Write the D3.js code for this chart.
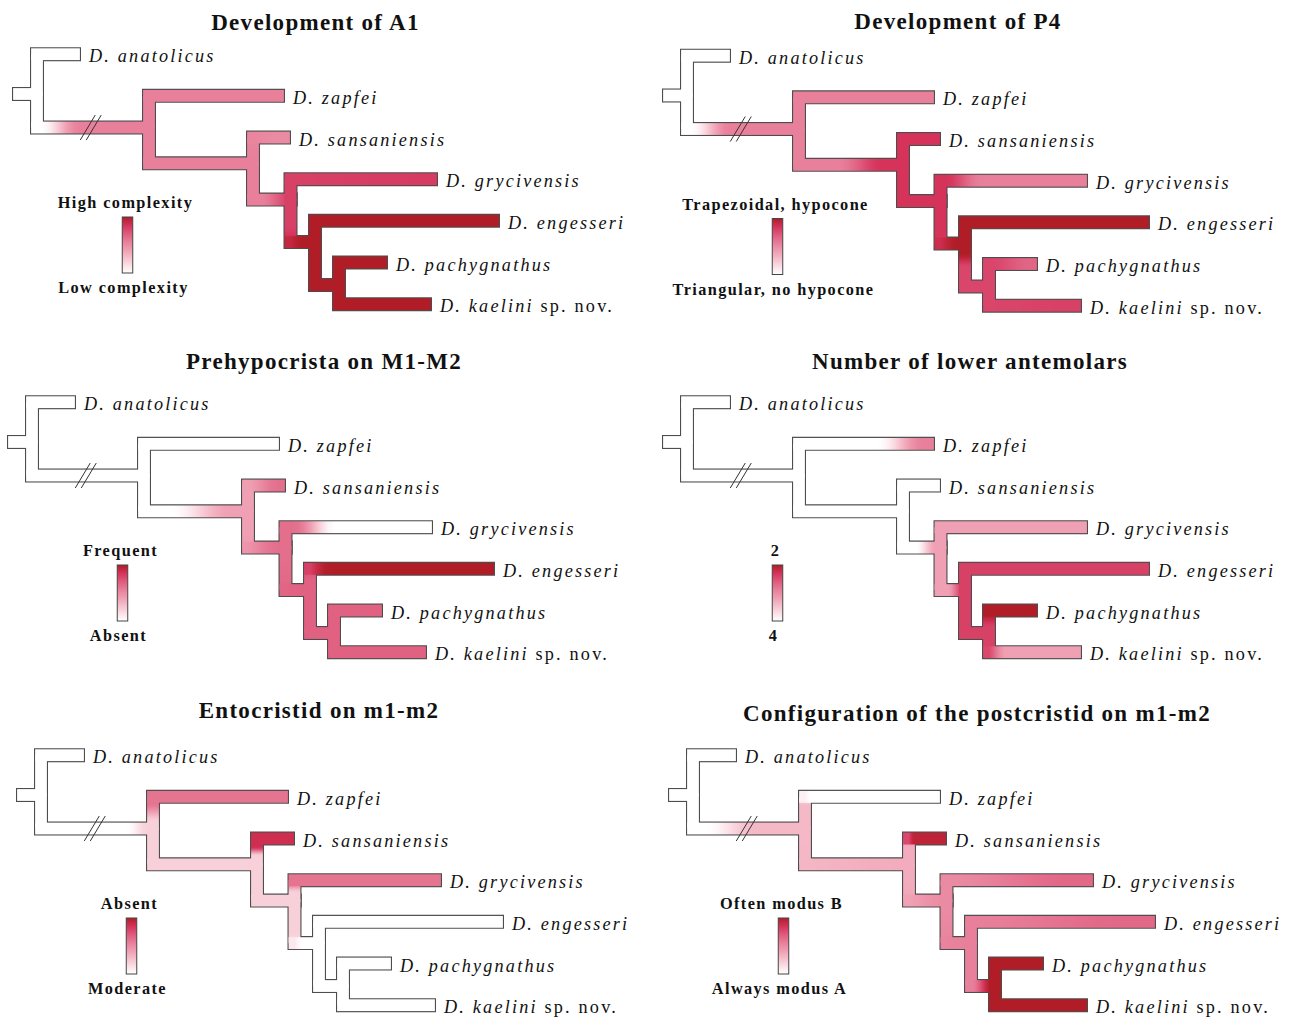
<!DOCTYPE html>
<html>
<head>
<meta charset="utf-8">
<script src="https://cdn.jsdelivr.net/npm/d3@7"></script>
<style>
  body { margin: 0; background: #ffffff; }
  text { font-family: "Liberation Serif", "Times New Roman", serif; fill: #111; }
</style>
</head>
<body>
<svg id="chart" width="1291" height="1017"></svg>
<script>
// ---- Characters mapped onto the tree (one tree per character) ----
const traitTitles = [
  "Development of A1",
  "Development of P4",
  "Prehypocrista on M1-M2",
  "Number of lower antemolars",
  "Entocristid on m1-m2",
  "Configuration of the postcristid on m1-m2"
];
const legendHigh = ["High complexity", "Trapezoidal, hypocone", "Frequent", "2", "Absent", "Often modus B"];
const legendLow  = ["Low complexity", "Triangular, no hypocone", "Absent", "4", "Moderate", "Always modus A"];

// ---- Tree topology ----
const nodeIds     = ["root", "anatolicus", "n1", "zapfei", "n2", "sansaniensis", "n3", "grycivensis", "n4", "engesseri", "n5", "pachygnathus", "kaelini"];
const nodeParents = [null, "root", "root", "n1", "n1", "n2", "n2", "n3", "n3", "n4", "n4", "n5", "n5"];
const branchLengths = [1.8, 3.7, 11.2, 12.9, 10.4, 3.1, 3.75, 14.05, 2.45, 17.8, 2.4, 4.2, 8.6];
const nodeRows      = [0.955, 0, 1.76, 1, 2.62, 2, 3.49, 3, 4.51, 4, 5.54, 5, 6];
const taxonLabels = {
  anatolicus: "D. anatolicus", zapfei: "D. zapfei", sansaniensis: "D. sansaniensis",
  grycivensis: "D. grycivensis", engesseri: "D. engesseri", pachygnathus: "D. pachygnathus",
  kaelini: "D. kaelini"
};

// ---- Reconstructed states (0 = low end of legend, 1 = high end), per node ----
const nodeStates = [
  [0, 0, 0.55, 0.55, 0.55, 0.5, 0.8, 0.82, 1, 1, 1, 1, 1],
  [0, 0, 0.55, 0.55, 0.85, 0.85, 0.85, 0.55, 1, 1, 0.78, 0.66, 0.8],
  [0, 0, 0, 0, 0.4, 0.62, 0.62, 0, 0.68, 1, 0.68, 0.68, 0.68],
  [0, 0, 0, 0.55, 0, 0, 0.4, 0.4, 0.8, 0.8, 0.8, 1, 0.4],
  [0, 0, 0.2, 0.6, 0.2, 0.88, 0.2, 0.6, 0, 0, 0, 0, 0],
  [0, 0, 0.3, 0, 0.35, 0.95, 0.5, 0.65, 0.55, 0.65, 1, 1, 1]
];
// where along each branch (fraction of its length) the state change is centred
const changeAt = [
  [0, 0.5, 0.39, 0.5, 0.5, 0.5, 0.8, 0.5, 0.6, 0.5, 0.5, 0.5, 0.5],
  [0, 0.5, 0.39, 0.5, 0.69, 0.5, 0.5, 0.27, 0.7, 0.5, 0.25, 0.7, 0.5],
  [0, 0.5, 0.5, 0.5, 0.66, 0.7, 0.6, 0.31, 0.5, 0.12, 0.5, 0.5, 0.5],
  [0, 0.5, 0.5, 0.83, 0.5, 0.5, 0.8, 0.5, 0.85, 0.5, 0.5, 0.2, 0.25],
  [0, 0.5, 0.89, 0.1, 0.5, 0.23, 0.5, 0.08, 0.63, 0.5, 0.5, 0.5, 0.5],
  [0, 0.5, 0.49, 0.18, 0.5, 0.42, 0.6, 0.5, 0.5, 0.5, 0.8, 0.5, 0.5]
];
// how much of the branch the change is spread over (fraction of its length)
const changeSpan = [
  [1, 1, 0.27, 1, 1, 1, 0.4, 1, 0.45, 1, 1, 1, 1],
  [1, 1, 0.27, 1, 0.32, 1, 1, 0.22, 0.37, 1, 0.22, 0.6, 1],
  [1, 1, 1, 1, 0.43, 0.6, 0.6, 0.25, 1, 0.15, 1, 1, 1],
  [1, 1, 1, 0.28, 1, 1, 0.27, 1, 0.22, 1, 1, 0.23, 0.19],
  [1, 1, 0.14, 0.12, 1, 0.17, 1, 0.06, 0.3, 1, 1, 1, 1],
  [1, 1, 0.35, 0.09, 1, 0.25, 0.8, 0.8, 1, 0.8, 0.3, 1, 1]
];

// ---- Panel placement ----
const panels = [
  { ox: 0,   oy: 0,    tx: 315.5, ty: 30 },
  { ox: 650, oy: 1.5,  tx: 958,   ty: 29 },
  { ox: -5,  oy: 348,  tx: 324,   ty: 369 },
  { ox: 650, oy: 348,  tx: 970,   ty: 369 },
  { ox: 4,   oy: 701,  tx: 319,   ty: 718 },
  { ox: 656, oy: 701,  tx: 977,   ty: 721 }
];

const W = 11.8;        // inner width of a branch tube
const B = 1.1;         // outline width
const OUTLINE = "#4d4d4d";

const stateColor = d3.scaleLinear()
  .domain([0, 0.2, 0.4, 0.55, 0.7, 0.85, 1])
  .range(["#ffffff", "#f8d0da", "#f0a0b4", "#e8809b", "#df5c7e", "#d5335a", "#b11d27"])
  .interpolate(d3.interpolateRgb)
  .clamp(true);

const svg = d3.select("#chart");
const defs = svg.append("defs");

// legend gradient: bottom = low state, top = high state
const lg = defs.append("linearGradient").attr("id", "legendGrad")
  .attr("x1", 0).attr("y1", 1).attr("x2", 0).attr("y2", 0);
d3.range(0, 1.0001, 0.05).forEach(t => {
  lg.append("stop").attr("offset", t).attr("stop-color", stateColor(t));
});

// hierarchy
const nodeTable = nodeIds.map((id, i) => ({ id, parent: nodeParents[i], len: branchLengths[i], row: nodeRows[i], idx: i }));
const tree = d3.stratify().id(d => d.id).parentId(d => d.parent)(nodeTable);
tree.eachBefore(n => { n.dist = (n.parent ? n.parent.dist : 0) + n.data.len; });
const maxDist = d3.max(tree.leaves(), n => n.dist);

function blend(v0, v1, m, w, f) {
  let t = w > 0 ? (f - (m - w / 2)) / w : (f >= m ? 1 : 0);
  t = Math.max(0, Math.min(1, t));
  t = t * t * (3 - 2 * t);
  return v0 + (v1 - v0) * t;
}

function gradient(id, x1, y1, x2, y2, colorAtT) {
  const g = defs.append("linearGradient").attr("id", id)
    .attr("gradientUnits", "userSpaceOnUse")
    .attr("x1", x1).attr("y1", y1).attr("x2", x2).attr("y2", y2);
  const N = 24;
  for (let k = 0; k <= N; k++) {
    g.append("stop").attr("offset", k / N).attr("stop-color", colorAtT(k / N));
  }
  return `url(#${id})`;
}

panels.forEach((P, pi) => {
  const x = d3.scaleLinear().domain([0, maxDist]).range([19 + P.ox, 493 + P.ox]);
  const y = d3.scaleLinear().domain([0, 6]).range([54.2 + P.oy, 304.2 + P.oy]);
  const states = nodeStates[pi];

  const g = svg.append("g").attr("class", "panel");
  const gOut = g.append("g");
  const gFill = g.append("g");
  const gMark = g.append("g");
  const gText = g.append("g");

  // title
  g.append("text")
    .attr("x", P.tx).attr("y", P.ty)
    .attr("text-anchor", "middle")
    .style("font-size", "23px").style("font-weight", "bold").style("letter-spacing", "1.3px")
    .text(traitTitles[pi]);

  // root stem
  const rx = x(tree.dist), ry = y(tree.data.row);
  gOut.append("path")
    .attr("d", `M${x(0)},${ry}H${rx}`)
    .attr("fill", "none").attr("stroke", OUTLINE).attr("stroke-width", W + 2 * B)
    .attr("stroke-linecap", "square");
  gFill.append("rect")
    .attr("x", x(0) - W / 2).attr("y", ry - W / 2)
    .attr("width", rx - x(0) + W / 2).attr("height", W)
    .attr("fill", stateColor(states[0]));

  tree.descendants().filter(n => n.parent).forEach(n => {
    const i = n.data.idx;
    const p = n.parent;
    const px = x(p.dist), py = y(p.data.row);
    const cx = x(n.dist), cy = y(n.data.row);
    const isTip = !n.children;
    const endX = cx + (isTip ? W / 2 : 0);
    const dy = Math.abs(cy - py);
    const L = dy + (cx - px);
    const v0 = states[p.data.idx], v1 = states[i];
    const m = changeAt[pi][i], w = changeSpan[pi][i];
    const colAt = s => stateColor(blend(v0, v1, m, w, Math.max(0, Math.min(1, s / L))));

    gOut.append("path")
      .attr("d", `M${px},${py}V${cy}H${cx}`)
      .attr("fill", "none").attr("stroke", OUTLINE).attr("stroke-width", W + 2 * B)
      .attr("stroke-linecap", "square").attr("stroke-linejoin", "miter");

    // vertical part of the elbow (reaches 1.5px past the node so neighbours overlap)
    if (dy > 0) {
      const fv = gradient(`gv${pi}_${i}`, px, py, px, cy, t => colAt(t * dy));
      gFill.append("rect")
        .attr("x", px - W / 2).attr("y", Math.min(py, cy) - (cy > py ? 1.5 : 0))
        .attr("width", W).attr("height", dy + 1.5)
        .attr("fill", fv);
    }
    // horizontal part of the elbow
    const fh = gradient(`gh${pi}_${i}`, px, cy, endX, cy, t => colAt(dy + t * (endX - px)));
    gFill.append("rect")
      .attr("x", px - W / 2).attr("y", cy - W / 2)
      .attr("width", endX - px + W / 2).attr("height", W)
      .attr("fill", fh);

    // break marks on the long stem of the ingroup
    if (n.data.id === "n1") {
      const bx = px + 0.48 * (cx - px);
      [-3, 3].forEach(d => {
        gMark.append("line")
          .attr("x1", bx + d - 7.5).attr("y1", cy + 12.5)
          .attr("x2", bx + d + 7.5).attr("y2", cy - 12.5)
          .attr("stroke", "#333").attr("stroke-width", 1);
      });
    }

    // taxon label
    if (isTip) {
      const t = gText.append("text")
        .attr("x", cx + W / 2 + B + 8).attr("y", cy + 8)
        .style("font-size", "18.2px").style("letter-spacing", "2.2px");
      t.append("tspan").style("font-style", "italic").text(taxonLabels[n.data.id]);
      if (n.data.id === "kaelini") t.append("tspan").text(" sp. nov.");
    }
  });

  // legend
  const lx = 127.5 + P.ox, ly = 217 + P.oy, lh = 56, lw = 10.5;
  g.append("rect")
    .attr("x", lx - lw / 2).attr("y", ly).attr("width", lw).attr("height", lh)
    .attr("fill", "url(#legendGrad)").attr("stroke", "#444").attr("stroke-width", 1);
  g.append("text")
    .attr("x", lx - 2).attr("y", ly - 9).attr("text-anchor", "middle")
    .style("font-size", "16.3px").style("font-weight", "bold").style("letter-spacing", "1.4px")
    .text(legendHigh[pi]);
  g.append("text")
    .attr("x", lx - 4).attr("y", ly + lh + 20).attr("text-anchor", "middle")
    .style("font-size", "16.3px").style("font-weight", "bold").style("letter-spacing", "1.4px")
    .text(legendLow[pi]);
});
</script>
</body>
</html>
